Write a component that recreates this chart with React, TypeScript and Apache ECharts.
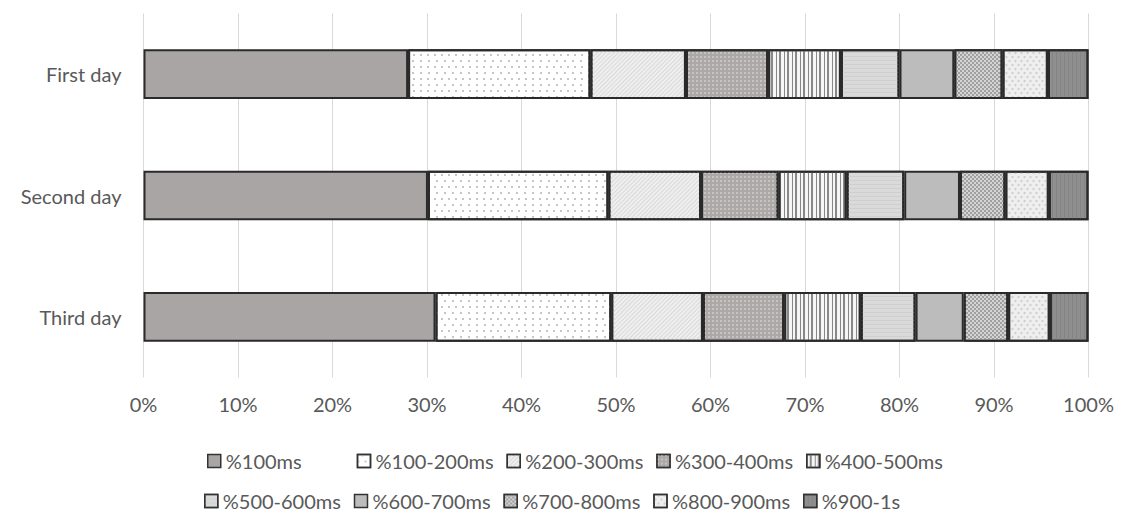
import React, { useEffect, useRef } from "react";
import * as echarts from "echarts";

// Days shown on the category axis (top to bottom)
const categories = ["First day", "Second day", "Third day"];

// Response-time buckets, in stacking order
const bucketNames = [
  "%100ms",
  "%100-200ms",
  "%200-300ms",
  "%300-400ms",
  "%400-500ms",
  "%500-600ms",
  "%600-700ms",
  "%700-800ms",
  "%800-900ms",
  "%900-1s",
];

// Share of requests (%) per bucket, for First / Second / Third day
const ms100 = [28.0, 30.1, 30.9];
const ms200 = [19.3, 19.1, 18.6];
const ms300 = [10.1, 9.8, 9.7];
const ms400 = [8.7, 8.2, 8.6];
const ms500 = [7.7, 7.2, 8.1];
const ms600 = [6.2, 6.1, 5.8];
const ms700 = [5.8, 5.9, 5.1];
const ms800 = [5.1, 4.8, 4.7];
const ms900 = [4.8, 4.6, 4.4];
const ms1000 = [4.3, 4.2, 4.1];

const bucketValues = [ms100, ms200, ms300, ms400, ms500, ms600, ms700, ms800, ms900, ms1000];

// Axis tick settings
const axisMin = 0;
const axisMax = 100;
const axisStep = 10;

const FONT = "Lato, 'Open Sans', sans-serif";
const TEXT = "#595959";

// Greyscale fills and hatch patterns, one per bucket
const bucketStyles: any[] = [
  { color: "#a9a5a5" },
  {
    color: "#ffffff",
    decal: { symbol: "rect", symbolSize: 1, color: "#c6c6c6", dashArrayX: [[1.5, 5], [0, 3.2, 1.5, 1.8]], dashArrayY: [1.5, 3.5] },
  },
  {
    color: "#efefef",
    decal: { symbol: "rect", symbolSize: 1, color: "#d9d9d9", rotation: -Math.PI / 4, dashArrayX: [1, 0], dashArrayY: [1, 2] },
  },
  {
    color: "#ada8a8",
    decal: { symbol: "rect", symbolSize: 1, color: "rgba(205,200,200,0.85)", dashArrayX: [2, 2], dashArrayY: [2, 2] },
  },
  {
    color: "#f6f6f6",
    decal: { symbol: "rect", symbolSize: 1, color: "#888888", dashArrayX: [[1, 2, 1.5, 3]], dashArrayY: [1, 0] },
  },
  {
    color: "#dadada",
    decal: { symbol: "rect", symbolSize: 1, color: "#cfcfcf", dashArrayX: [1, 0], dashArrayY: [1, 3] },
  },
  { color: "#bcbcbc" },
  {
    color: "#d4d4d4",
    decal: { symbol: "rect", symbolSize: 1, color: "#a0a0a0", dashArrayX: [[1.5, 1.5], [0, 1.5, 1.5, 0]], dashArrayY: [1.5, 0] },
  },
  {
    color: "#eeeeee",
    decal: { symbol: "circle", symbolSize: 1, color: "#cbcbcb", dashArrayX: [[3, 3], [0, 3, 3, 0]], dashArrayY: [1.5, 1.5] },
  },
  {
    color: "#8f8f8f",
    decal: { symbol: "rect", symbolSize: 1, color: "#848484", dashArrayX: [1, 3], dashArrayY: [1, 0] },
  },
];

function legendRow(names: string[], left: number, top: number) {
  return {
    data: names,
    left,
    top,
    orient: "horizontal",
    padding: 0,
    icon: "rect",
    itemWidth: 13,
    itemHeight: 13,
    itemGap: 5,
    selectedMode: false,
    itemStyle: { borderColor: "#333333", borderWidth: 1.5 },
    textStyle: {
      fontFamily: FONT,
      fontSize: 20,
      color: TEXT,
      width: 126,
      lineHeight: 24,
      overflow: "none",
    },
  };
}

export default function App() {
  const ref = useRef<HTMLDivElement>(null);

  useEffect(() => {
    if (!ref.current) return;
    const chart = echarts.init(ref.current, null, { renderer: "svg" });

    const series = bucketNames.map((name, i) => ({
      name,
      type: "bar",
      stack: "total",
      barWidth: "41%",
      data: bucketValues[i],
      itemStyle: {
        ...bucketStyles[i],
        borderColor: "#2a2a2a",
        borderWidth: 2,
      },
      emphasis: { disabled: true },
    }));

    chart.setOption({
      animation: false,
      backgroundColor: "#ffffff",
      textStyle: { fontFamily: FONT },
      grid: { left: 143.5, right: 37.5, top: 13.5, bottom: 143.5, containLabel: false },
      xAxis: {
        type: "value",
        min: axisMin,
        max: axisMax,
        interval: axisStep,
        axisLine: { show: false },
        axisTick: { show: false },
        axisLabel: { formatter: "{value}%", color: TEXT, fontSize: 20, fontFamily: FONT, margin: 16 },
        splitLine: { show: true, lineStyle: { color: "#d9d9d9", width: 1 } },
      },
      yAxis: {
        type: "category",
        inverse: true,
        data: categories,
        axisLine: { show: false },
        axisTick: { show: false },
        axisLabel: { color: TEXT, fontSize: 20, fontFamily: FONT, margin: 22 },
        splitLine: { show: false },
      },
      legend: [legendRow(bucketNames.slice(0, 5), 207, 449), legendRow(bucketNames.slice(5), 204, 489)],
      series,
    });

    return () => chart.dispose();
  }, []);

  return (
    <div
      ref={ref}
      style={{ position: "fixed", left: 0, top: 0, width: 1126, height: 521, background: "#fff" }}
    />
  );
}
